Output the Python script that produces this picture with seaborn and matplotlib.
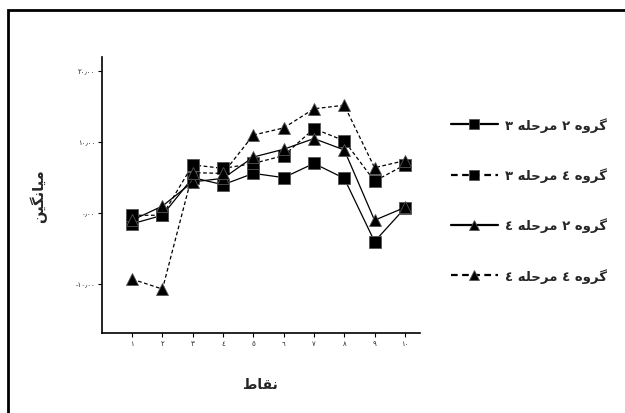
import matplotlib
matplotlib.use("Agg")
import matplotlib.pyplot as plt
import seaborn as sns
import pandas as pd
from matplotlib.patches import Rectangle

# Data
points = [1, 2, 3, 4, 5, 6, 7, 8, 9, 10]
g2_s3 = [-1.5, -0.3, 5.0, 4.0, 5.6, 5.0, 7.0, 4.9, -4.0, 0.7]
g4_s3 = [-0.3, -0.3, 6.8, 6.3, 7.0, 8.1, 11.9, 10.2, 4.5, 6.8]
g2_s4 = [-1.0, 1.0, 4.4, 4.9, 7.9, 9.0, 10.5, 8.9, -1.0, 0.8]
g4_s4 = [-9.3, -10.7, 5.7, 5.6, 11.0, 12.0, 14.7, 15.2, 6.4, 7.4]

# Persian text written in visual (left-to-right) order with presentation forms
series_labels = [
    "\u0663 \ufeea\ufee0\ufea3\ufeae\ufee3 \u0662 \ufee9\ufeed\ufeae\ufb94",
    "\u0663 \ufeea\ufee0\ufea3\ufeae\ufee3 \u0664 \ufee9\ufeed\ufeae\ufb94",
    "\u0664 \ufeea\ufee0\ufea3\ufeae\ufee3 \u0662 \ufee9\ufeed\ufeae\ufb94",
    "\u0664 \ufeea\ufee0\ufea3\ufeae\ufee3 \u0664 \ufee9\ufeed\ufeae\ufb94",
]
x_ticklabels = ["\u0661", "\u0662", "\u0663", "\u0664", "\u0665",
                "\u0666", "\u0667", "\u0668", "\u0669", "\u0661\u0660"]
y_ticks = [-10, 0, 10, 20]
y_ticklabels = ["-\u0661\u0660\u066b\u0660\u0660", "\u0660\u066b\u0660\u0660",
                "\u0661\u0660\u066b\u0660\u0660", "\u0662\u0660\u066b\u0660\u0660"]
x_title = "\ufec1\ufe8e\ufed8\ufee7"
y_title = "\ufee6\ufef4\ufb95\ufee7\ufe8e\ufef4\ufee3"

sns.set_style("white")
plt.rcParams["font.family"] = ["DejaVu Sans"]

fig = plt.figure(figsize=(6.25, 4.14), dpi=100)
ax = fig.add_axes([0.163, 0.193, 0.509, 0.667])

series = [g2_s3, g4_s3, g2_s4, g4_s4]
markers = ["s", "s", "^", "^"]
styles = ["-", (0, (3, 2)), "-", (0, (3, 2))]
for vals, lab, mk, ls in zip(series, series_labels, markers, styles):
    df = pd.DataFrame({"x": points, "y": vals})
    sns.lineplot(data=df, x="x", y="y", ax=ax, color="black", linewidth=0.9,
                 linestyle=ls, marker=mk, markersize=8.5, markerfacecolor="black",
                 markeredgecolor="#555555", markeredgewidth=0.6, label=lab)

ax.set_xlim(0, 10.5)
ax.set_ylim(-16.9, 22)
ax.set_xticks(points)
ax.set_xticklabels(x_ticklabels, fontsize=5)
ax.set_yticks(y_ticks)
ax.set_yticklabels(y_ticklabels, fontsize=5)
ax.tick_params(axis="both", direction="out", length=3, width=0.8, color="black",
               left=True, bottom=True, pad=2)
for side in ["top", "right"]:
    ax.spines[side].set_visible(False)
for side in ["left", "bottom"]:
    ax.spines[side].set_color("black")
    ax.spines[side].set_linewidth(1.2)

ax.set_xlabel(x_title, fontsize=10, fontweight="bold", labelpad=22)
ax.set_ylabel(y_title, fontsize=10.5, fontweight="bold", labelpad=20)

leg = ax.legend(loc="upper left", bbox_to_anchor=(0.702, 0.743),
                bbox_transform=fig.transFigure, frameon=False,
                prop={"weight": "bold", "size": 9.5}, handlelength=3.6,
                labelspacing=2.68, handletextpad=0.5, markerscale=0.85)
for h in leg.legend_handles:
    h.set_linewidth(1.6)

# page frame
fig.patches.append(Rectangle((8 / 625, -0.1), 1.2, (414 - 11) / 414 + 0.1,
                             transform=fig.transFigure, fill=False,
                             edgecolor="black", linewidth=2))

fig.savefig("out.png", dpi=100)
